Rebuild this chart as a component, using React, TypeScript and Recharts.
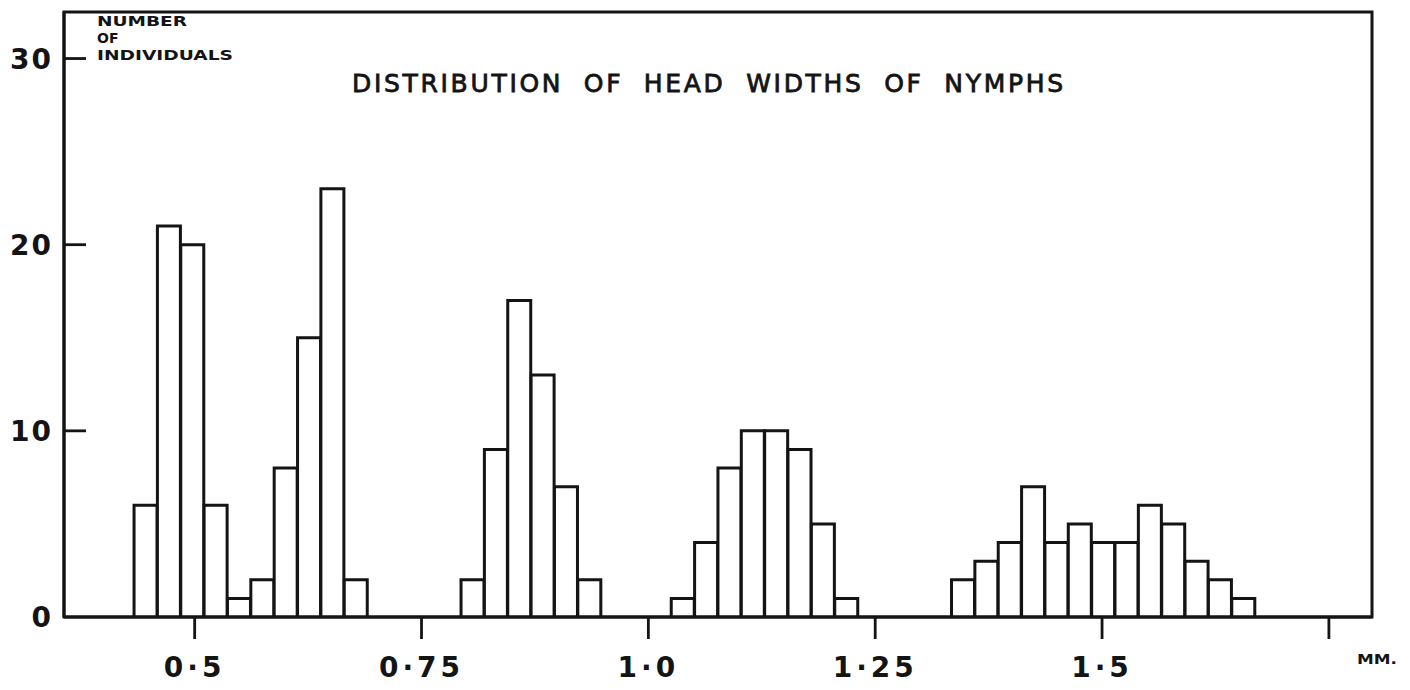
import { ComposedChart, Bar, XAxis, YAxis, ReferenceArea } from "recharts";

// counts per head-width class (mm)
const counts = [
    6, 21, 20, 6, 1, 2, 8, 15, 23, 2,
    0, 0, 0, 0,
    2, 9, 17, 13, 7, 2,
    0, 0, 0,
    1, 4, 8, 10, 10, 9, 5, 1,
    0, 0, 0, 0,
    2, 3, 4, 7, 4, 5, 4, 4, 6, 5, 3, 2, 1,
];
const FIRST_CLASS_MM = 0.4332;
const CLASS_WIDTH_MM = 0.02574;

const xTicks = [0.5, 0.75, 1.0, 1.25, 1.5, 1.75];
const xTickLabels = ["0·5", "0·75", "1·0", "1·25", "1·5", ""];
const yTicks = [0, 10, 20, 30];

const X_DOMAIN: [number, number] = [0.356, 1.7975];
const Y_DOMAIN: [number, number] = [0, 32.5];

const INK = "#141414";
const tickFont = "'DejaVu Sans', sans-serif";

const data = counts.map((n, i) => ({
    width: FIRST_CLASS_MM + (i + 0.5) * CLASS_WIDTH_MM,
    n,
}));

const XTick = (props: any) => {
    const { x, y, payload } = props;
    const idx = xTicks.indexOf(payload.value);
    return (
        <text x={x} y={y + 36} textAnchor="middle" fill={INK}
            style={{ fontFamily: tickFont, fontWeight: 700, fontSize: 28, letterSpacing: 4 }}>
            {xTickLabels[idx]}
        </text>
    );
};

const YTick = (props: any) => {
    const { x, y, payload } = props;
    return (
        <g>
            <text x={x - 11} y={y + 10} textAnchor="end" fill={INK}
                style={{ fontFamily: tickFont, fontWeight: 700, fontSize: 28, letterSpacing: 2 }}>
                {payload.value}
            </text>
            {payload.value !== 0 && (
                <line x1={x} x2={x + 22} y1={y} y2={y} stroke={INK} strokeWidth={2.8} />
            )}
        </g>
    );
};

export default function App() {
    return (
        <div style={{ position: "absolute", left: 0, top: 0, width: 1410, height: 690, background: "#fff" }}>
            <ComposedChart width={1410} height={690} data={data}
                margin={{ top: 12, right: 38, bottom: 0, left: 0 }}
                barCategoryGap={0} barGap={0}>
                <XAxis type="number" dataKey="width" domain={X_DOMAIN} allowDataOverflow
                    ticks={xTicks} interval={0} height={73} tickSize={22}
                    axisLine={{ stroke: INK, strokeWidth: 3 }}
                    tickLine={{ stroke: INK, strokeWidth: 2.8 }}
                    tick={<XTick />} />
                <YAxis type="number" domain={Y_DOMAIN} allowDataOverflow ticks={yTicks} interval={0}
                    width={64} tickSize={0} tickMargin={0} tickLine={false}
                    axisLine={{ stroke: INK, strokeWidth: 3 }}
                    tick={<YTick />} />
                <Bar dataKey="n" fill="#fff" stroke={INK} strokeWidth={3} isAnimationActive={false} />
                <ReferenceArea x1={X_DOMAIN[0]} x2={X_DOMAIN[1]} y1={Y_DOMAIN[0]} y2={Y_DOMAIN[1]}
                    fill="none" fillOpacity={0} stroke={INK} strokeWidth={3} ifOverflow="visible" />
            </ComposedChart>

            {/* lettering on the plate */}
            <svg width={1410} height={690} style={{ position: "absolute", left: 0, top: 0, pointerEvents: "none" }}>
                <g fill={INK} style={{ fontFamily: tickFont, fontWeight: 700, fontSize: 14 }}>
                    <text x={97} y={26} textLength={90} lengthAdjust="spacingAndGlyphs">NUMBER</text>
                    <text x={97} y={43}>OF</text>
                    <text x={97} y={60} textLength={136} lengthAdjust="spacingAndGlyphs">INDIVIDUALS</text>
                </g>
                <text x={352} y={92} textLength={711} lengthAdjust="spacing" fill={INK}
                    stroke={INK} strokeWidth={0.8}
                    style={{ fontFamily: tickFont, fontWeight: 400, fontSize: 25, wordSpacing: 10 }}>
                    DISTRIBUTION OF HEAD WIDTHS OF NYMPHS
                </text>
                <text x={1357} y={664} textLength={40} lengthAdjust="spacingAndGlyphs" fill={INK}
                    style={{ fontFamily: tickFont, fontWeight: 700, fontSize: 14 }}>
                    MM.
                </text>
            </svg>
        </div>
    );
}
